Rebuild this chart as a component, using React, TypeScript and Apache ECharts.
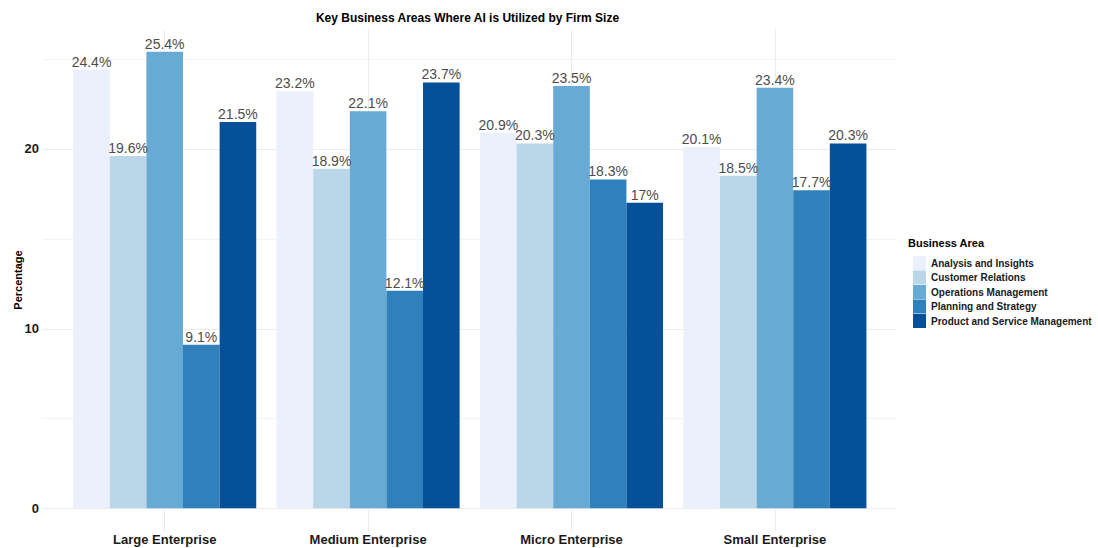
import React, { useEffect, useRef } from "react";
import * as echarts from "echarts";

const categories = ["Large Enterprise", "Medium Enterprise", "Micro Enterprise", "Small Enterprise"];
const areas = [
  "Analysis and Insights",
  "Customer Relations",
  "Operations Management",
  "Planning and Strategy",
  "Product and Service Management",
];
const analysisInsights = [24.4, 23.2, 20.9, 20.1];
const customerRelations = [19.6, 18.9, 20.3, 18.5];
const operationsManagement = [25.4, 22.1, 23.5, 23.4];
const planningStrategy = [9.1, 12.1, 18.3, 17.7];
const productService = [21.5, 23.7, 17, 20.3];
const seriesValues = [analysisInsights, customerRelations, operationsManagement, planningStrategy, productService];
const colors = ["#eaf0fc", "#bad6e8", "#67aad4", "#2f80bb", "#064f99"];
const majorTicks = [0, 10, 20];
const minorTicks = [5, 15, 25];

const FONT = "'Liberation Sans', Arial, Helvetica, sans-serif";

export default function App() {
  const ref = useRef<HTMLDivElement>(null);
  useEffect(() => {
    if (!ref.current) return;
    const chart = echarts.init(ref.current, null, { renderer: "svg" });
    const yMax = 26.67;
    const yMinBg = -1.27;
    const barSeries = areas.map((name, i) => ({
      name,
      type: "bar",
      xAxisIndex: 0,
      yAxisIndex: 0,
      data: seriesValues[i],
      barGap: "0%",
      barCategoryGap: "10%",
      z: 2,
      itemStyle: { color: colors[i] },
      label: {
        show: true,
        position: "top",
        distance: 1,
        formatter: (p: any) => `${p.value}%`,
        fontSize: 14,
        fontFamily: FONT,
        color: "#4d4d4d",
      },
    }));
    const gridLines = [
      ...categories.map((_, i) => ({ xAxis: i, lineStyle: { color: "#ebebeb", width: 1.1, type: "solid" } })),
      ...majorTicks.map((v) => ({ yAxis: v, lineStyle: { color: "#ebebeb", width: 1.1, type: "solid" } })),
      ...minorTicks.map((v) => ({ yAxis: v, lineStyle: { color: "#f3f3f3", width: 1, type: "solid" } })),
    ];
    chart.setOption({
      animation: false,
      backgroundColor: "#ffffff",
      textStyle: { fontFamily: FONT },
      grid: [
        { left: 63, right: 221.4, top: 29, bottom: 39.7 },
        { left: 42.7, right: 201, top: 29, bottom: 16.5 },
      ],
      xAxis: [
        {
          type: "category",
          gridIndex: 0,
          data: categories,
          axisLine: { show: false },
          axisTick: { show: false },
          splitLine: { show: false },
          axisLabel: { fontSize: 13, fontWeight: "bold", color: "#1a1a1a", margin: 25, fontFamily: FONT },
        },
        { type: "value", gridIndex: 1, min: -0.6, max: 3.6, show: false },
      ],
      yAxis: [
        {
          type: "value",
          gridIndex: 0,
          min: 0,
          max: yMax,
          interval: 10,
          axisLine: { show: false },
          axisTick: { show: false },
          splitLine: { show: false },
          axisLabel: {
            fontSize: 13,
            fontWeight: "bold",
            color: "#1a1a1a",
            margin: 24,
            fontFamily: FONT,
            formatter: (v: number) => (majorTicks.includes(v) ? String(v) : ""),
          },
        },
        { type: "value", gridIndex: 1, min: yMinBg, max: yMax, show: false },
      ],
      legend: {
        orient: "vertical",
        left: 908,
        top: 251,
        itemWidth: 13,
        itemHeight: 14,
        itemGap: 0.5,
        icon: "rect",
        data: areas,
        textStyle: { fontSize: 10, fontWeight: "bold", color: "#1a1a1a", fontFamily: FONT },
      },
      graphic: [
        {
          type: "text",
          x: 467.5,
          y: 18,
          style: {
            text: "Key Business Areas Where AI is Utilized by Firm Size",
            fontSize: 12,
            fontWeight: "bold",
            fontFamily: FONT,
            fill: "#000",
            align: "center",
            verticalAlign: "middle",
          },
        },
        {
          type: "text",
          x: 908,
          y: 243,
          style: {
            text: "Business Area",
            fontSize: 11,
            fontWeight: "bold",
            fontFamily: FONT,
            fill: "#000",
            align: "left",
            verticalAlign: "middle",
          },
        },
        {
          type: "text",
          x: 18,
          y: 280,
          rotation: Math.PI / 2,
          style: {
            text: "Percentage",
            fontSize: 11,
            fontWeight: "bold",
            fontFamily: FONT,
            fill: "#000",
            align: "center",
            verticalAlign: "middle",
          },
        },
      ],
      series: [
        {
          type: "line",
          xAxisIndex: 1,
          yAxisIndex: 1,
          data: [],
          z: 0,
          silent: true,
          showSymbol: false,
          markLine: {
            silent: true,
            z: 0,
            symbol: "none",
            animation: false,
            label: { show: false },
            data: gridLines,
          },
        },
        ...barSeries,
      ],
    });
    return () => chart.dispose();
  }, []);
  return <div ref={ref} style={{ position: "fixed", left: 0, top: 0, width: 1098, height: 548 }} />;
}
